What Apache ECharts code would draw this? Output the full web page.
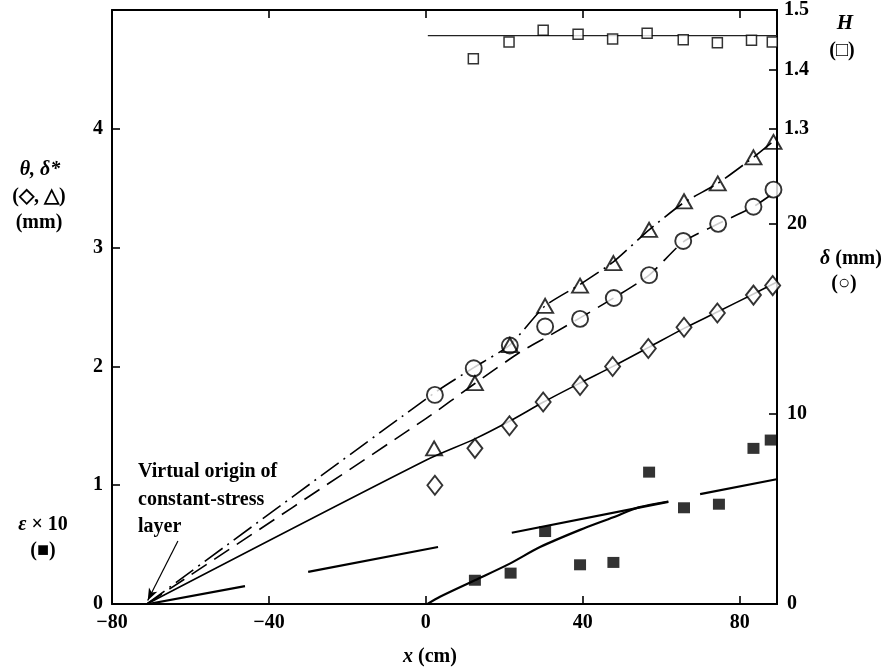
<!DOCTYPE html>
<html>
<head>
<meta charset="utf-8">
<script src="https://cdn.jsdelivr.net/npm/echarts@6/dist/echarts.min.js"></script>
<style>html,body{margin:0;padding:0;background:#fff;}#c{width:888px;height:670px;}</style>
</head>
<body>
<div id="c"></div>
<script>
// ---------- data ----------
const xTicks = [-80, -40, 0, 40, 80];
const leftTicks = [0, 1, 2, 3, 4];
const deltaTicks = [0, 10, 20];
const hTicks = [1.3, 1.4, 1.5];

// theta (diamonds), left axis, mm
const thetaX = [2.3, 12.5, 21.3, 29.9, 39.3, 47.6, 56.7, 65.8, 74.3, 83.5, 88.4];
const thetaY = [1.00, 1.31, 1.50, 1.70, 1.84, 2.00, 2.15, 2.33, 2.45, 2.60, 2.68];
// delta* (triangles), left axis, mm
const dstarX = [2.1, 12.5, 21.4, 30.4, 39.3, 47.8, 56.9, 65.8, 74.4, 83.5, 88.6];
const dstarY = [1.31, 1.86, 2.18, 2.51, 2.68, 2.87, 3.15, 3.39, 3.54, 3.76, 3.89];
// delta (circles), right axis, mm
const deltaX = [2.3, 12.2, 21.4, 30.4, 39.3, 47.9, 56.9, 65.6, 74.5, 83.5, 88.6];
const deltaY = [11.0, 12.4, 13.6, 14.6, 15.0, 16.1, 17.3, 19.1, 20.0, 20.9, 21.8];
// H (open squares), right axis
const hX = [12.1, 21.2, 29.9, 38.8, 47.6, 56.4, 65.6, 74.3, 83.0, 88.3];
const hY = [1.418, 1.446, 1.466, 1.459, 1.451, 1.461, 1.450, 1.445, 1.449, 1.446];
// epsilon x 10 (filled squares), left axis
const epsX = [12.5, 21.6, 30.4, 39.3, 47.8, 56.9, 65.8, 74.7, 83.5, 87.9];
const epsY = [0.20, 0.26, 0.61, 0.33, 0.35, 1.11, 0.81, 0.84, 1.31, 1.38];

// fitted lines
const thetaLineX = [-71.1, 0, 12.5, 21.4, 30, 39.3, 47.7, 56.8, 65.8, 74.4, 83.5, 89.5];
const thetaLineY = [0, 1.21, 1.39, 1.54, 1.70, 1.86, 2.00, 2.16, 2.32, 2.46, 2.61, 2.71];
const dstarLineX = [-71.1, 2.3, 12.2, 21.4, 30.4, 39.3, 47.8, 56.9, 65.8, 74.4, 83.5, 89.5];
const dstarLineY = [0, 1.78, 1.99, 2.18, 2.51, 2.69, 2.88, 3.15, 3.38, 3.54, 3.76, 3.92];
const deltaLineX = [-71.1, 0, 12.5, 24, 31.3, 39.3, 47.9, 56.9, 65.6, 74.5, 83.5, 89.5];
const deltaLineY = [0, 9.75, 11.6, 13.25, 14.1, 15.05, 16.1, 17.3, 19.05, 20.0, 20.9, 21.75];
const hLineX = [0.5, 89.5];
const hLineY = [1.457, 1.457];
// epsilon long-dashed line (null = gap)
const epsDashX = [-70.8, -46.1, null, -30.0, 3.1, null, 21.9, 61.8, null, 69.9, 89.4];
const epsDashY = [0, 0.15, null, 0.27, 0.48, null, 0.60, 0.86, null, 0.925, 1.05];
// epsilon curve
const epsCurveX = [0.4, 3.6, 12.5, 21.4, 29.1, 39.3, 47.8, 54.2, 61.8];
const epsCurveY = [0, 0.061, 0.20, 0.34, 0.479, 0.624, 0.73, 0.813, 0.863];
// annotation arrow (tail -> tip)
const arrowFrom = [-63.2, 0.53];
const arrowTo = [-70.9, 0.03];
const noteText = ['Virtual origin of', 'constant-stress', 'layer'];

// ---------- chart ----------
const FONT = "'Liberation Serif','Times New Roman',serif";
const pair = (xs, ys) => xs.map((x, i) => (x === null ? '-' : [x, ys[i]]));
const minus = v => String(v).replace('-', '\u2212');

const chart = echarts.init(document.getElementById('c'), null, {renderer: 'canvas'});

const axisLine = {show: true, onZero: false, lineStyle: {color: '#000', width: 2}};
const tickBase = {show: true, inside: true, length: 8, lineStyle: {color: '#000', width: 1.6}};
const lblBase = {color: '#000', fontFamily: FONT, fontSize: 20, fontWeight: 'bold'};

const open = {color: '#fff', borderColor: '#000', borderWidth: 1.9};

const option = {
  animation: false,
  backgroundColor: '#fff',
  grid: {left: 112, top: 7, width: 665, height: 597, containLabel: false},
  xAxis: [
    {type: 'value', position: 'bottom', min: -80, max: 89.5,
     axisLine, splitLine: {show: false},
     axisTick: Object.assign({}, tickBase, {customValues: xTicks}),
     axisLabel: Object.assign({}, lblBase, {customValues: xTicks, margin: 9, formatter: minus})},
    {type: 'value', position: 'top', min: -80, max: 89.5,
     axisLine, splitLine: {show: false},
     axisTick: Object.assign({}, tickBase, {customValues: [-40, 0, 40, 80]}),
     axisLabel: {show: false}}
  ],
  yAxis: [
    {type: 'value', position: 'left', min: 0, max: 5,
     axisLine, splitLine: {show: false},
     axisTick: Object.assign({}, tickBase, {customValues: leftTicks}),
     axisLabel: Object.assign({}, lblBase, {customValues: leftTicks, margin: 9})},
    {type: 'value', position: 'right', min: 0, max: 31.25,
     axisLine, splitLine: {show: false},
     axisTick: Object.assign({}, tickBase, {customValues: deltaTicks}),
     axisLabel: Object.assign({}, lblBase, {customValues: deltaTicks, margin: 10})},
    {type: 'value', position: 'right', min: 0.5, max: 1.5,
     axisLine, splitLine: {show: false},
     axisTick: Object.assign({}, tickBase, {customValues: hTicks}),
     axisLabel: Object.assign({}, lblBase, {customValues: hTicks, margin: 7,
       formatter: v => Number(v).toFixed(1)})}
  ],
  series: [
    // lines
    {type: 'line', data: pair(thetaLineX, thetaLineY), smooth: 0.3, symbol: 'none',
     lineStyle: {color: '#000', width: 1.6}, z: 2},
    {type: 'line', data: pair(dstarLineX, dstarLineY), smooth: 0.2, symbol: 'none',
     lineStyle: {color: '#000', width: 1.6, type: [22, 6, 2, 6]}, z: 2},
    {type: 'line', yAxisIndex: 1, data: pair(deltaLineX, deltaLineY), smooth: 0.2, symbol: 'none',
     lineStyle: {color: '#000', width: 1.6, type: [18, 9]}, z: 2},
    {type: 'line', yAxisIndex: 2, data: pair(hLineX, hLineY), symbol: 'none',
     lineStyle: {color: '#222', width: 1.2}, z: 2},
    {type: 'line', data: pair(epsDashX, epsDashY), connectNulls: false, symbol: 'none',
     lineStyle: {color: '#000', width: 2.2}, z: 2,
     markLine: {silent: true, symbol: ['none', 'arrow'], symbolSize: [7, 12],
       label: {show: false}, lineStyle: {color: '#000', width: 1.2, type: 'solid'},
       data: [[{coord: arrowFrom}, {coord: arrowTo}]]}},
    {type: 'line', data: pair(epsCurveX, epsCurveY), smooth: 0.3, symbol: 'none',
     lineStyle: {color: '#000', width: 2.2}, z: 2},
    // markers
    {type: 'scatter', data: pair(thetaX, thetaY), symbol: 'diamond', symbolSize: [15, 19],
     itemStyle: open, z: 5},
    {type: 'scatter', data: pair(dstarX, dstarY), symbol: 'triangle', symbolSize: [16, 14],
     itemStyle: {color: 'rgba(255,255,255,0)', borderColor: '#000', borderWidth: 1.9}, z: 6},
    {type: 'scatter', yAxisIndex: 1, data: pair(deltaX, deltaY), symbol: 'circle', symbolSize: 16,
     itemStyle: open, z: 5},
    {type: 'scatter', yAxisIndex: 2, data: pair(hX, hY), symbol: 'rect', symbolSize: 10,
     itemStyle: {color: '#fff', borderColor: '#000', borderWidth: 1.5}, z: 5},
    {type: 'scatter', data: pair(epsX, epsY), symbol: 'rect', symbolSize: [12, 11],
     itemStyle: {color: '#000'}, z: 5}
  ],
  graphic: []
};

const t = (x, y, text, extra) => Object.assign({
  type: 'text', x, y, silent: true,
  style: Object.assign({text, fill: '#000', font: 'bold 20px ' + FONT, align: 'center', verticalAlign: 'middle'}, extra || {})
});
const richI = {i: {fontStyle: 'italic', fontWeight: 'bold', fontFamily: FONT, fontSize: 20, fill: '#000'},
               n: {fontWeight: 'bold', fontFamily: FONT, fontSize: 20, fill: '#000'}};

option.graphic = [
  t(40, 170, 'θ, δ*', {font: 'italic bold 20px ' + FONT}),
  t(39, 197, '(◇, △)'),
  t(39, 223, '(mm)'),
  t(43, 525, '{i|ε}{n| × 10}', {rich: richI}),
  t(43, 551, '(■)'),
  t(845, 24, 'H', {font: 'italic bold 21px ' + FONT}),
  t(842, 51, '(□)'),
  t(851, 259, '{i|δ}{n| (mm)}', {rich: richI}),
  t(844, 284, '(○)'),
  t(430, 657, '{i|x}{n| (cm)}', {rich: richI}),
  t(138, 472, noteText[0], {align: 'left'}),
  t(138, 500, noteText[1], {align: 'left'}),
  t(138, 527, noteText[2], {align: 'left'})
];

chart.setOption(option);
</script>
</body>
</html>
